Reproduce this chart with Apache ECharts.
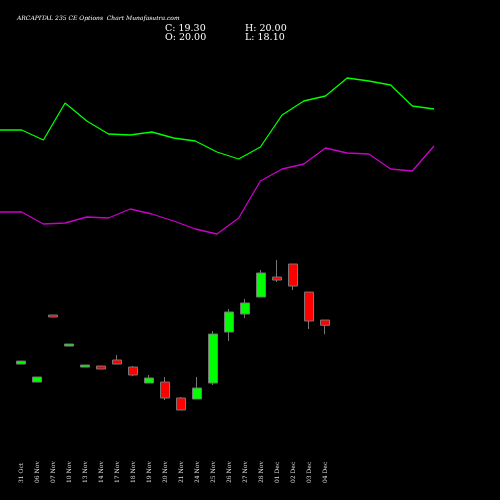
<!DOCTYPE html>
<html><head><meta charset="utf-8">
<script src="https://cdn.jsdelivr.net/npm/echarts@6/dist/echarts.min.js"></script>
<style>html,body{margin:0;background:#000}#c{width:500px;height:500px}</style>
</head><body><div id="c"></div>
<script>
var categories=["31 Oct","06 Nov","07 Nov","10 Nov","13 Nov","14 Nov","17 Nov","18 Nov","19 Nov","20 Nov","21 Nov","24 Nov","25 Nov","26 Nov","27 Nov","28 Nov","01 Dec","02 Dec","03 Dec","04 Dec"];
// [open, close, low, high]
var ohlc=[[14.13,14.53,14.13,14.53],[11.73,12.4,11.73,12.4],[20.67,20.4,20.4,20.67],[16.53,16.8,16.53,16.8],[13.73,14.0,13.73,14.0],[13.87,13.47,13.47,13.87],[14.67,14.13,14.13,15.33],[13.73,12.67,12.53,13.87],[11.6,12.27,11.6,12.67],[11.73,9.6,9.33,12.4],[9.6,8.0,8.0,9.73],[9.47,10.93,9.47,12.4],[11.6,18.13,11.33,18.53],[18.4,21.07,17.2,21.47],[20.8,22.27,20.27,22.8],[23.07,26.27,23.07,26.67],[25.73,25.33,25.07,28.0],[27.47,24.53,24.0,27.47],[23.73,19.87,18.8,23.73],[20.0,19.3,18.1,20.0]];
var lineIdx=[0,1,2,3,4,5,6,7,8,9,10,11,12,13,14,15,16,17,18,19,20];
var upper=[37.0,37.0,36.0,39.7,37.9,36.6,36.5,36.8,36.2,35.9,34.8,34.1,35.3,38.5,39.9,40.4,42.2,41.9,41.5,39.4,39.1];
var lower=[28.8,28.8,27.6,27.7,28.3,28.2,29.1,28.6,27.9,27.1,26.6,28.2,31.9,33.1,33.6,35.2,34.7,34.6,33.1,32.9,35.4];
var chart=echarts.init(document.getElementById('c'));
chart.setOption({
 backgroundColor:'#000',animation:false,
 title:[{text:'ARCAPITAL 235 CE Options  Chart Munafasutra.com',left:12,top:10,textStyle:{color:'#fff',fontSize:6,fontFamily:'DejaVu Serif',fontStyle:'italic',fontWeight:'normal'}},
  {text:'C: 19.30',left:160,top:19,textStyle:{color:'#fff',fontSize:9.5,fontFamily:'DejaVu Serif',fontWeight:'normal'}},
  {text:'H: 20.00',left:240,top:19,textStyle:{color:'#fff',fontSize:9.5,fontFamily:'DejaVu Serif',fontWeight:'normal'}},
  {text:'O: 20.00',left:160,top:28,textStyle:{color:'#fff',fontSize:9.5,fontFamily:'DejaVu Serif',fontWeight:'normal'}},
  {text:'L: 18.10',left:240,top:28,textStyle:{color:'#fff',fontSize:9.5,fontFamily:'DejaVu Serif',fontWeight:'normal'}}],
 grid:[{left:13,width:320,top:0,height:483},{left:0,width:434,top:0,height:500}],
 xAxis:[{type:'category',data:categories,gridIndex:0,boundaryGap:true,axisLine:{show:false},axisTick:{show:false},
   axisLabel:{inside:true,rotate:90,margin:0,color:'#ddd',fontSize:6,fontFamily:'DejaVu Serif',interval:0}},
  {type:'category',data:lineIdx,gridIndex:1,boundaryGap:false,show:false}],
 yAxis:[{type:'value',gridIndex:0,min:-1.73,max:62.67,show:false,splitLine:{show:false}},
  {type:'value',gridIndex:1,min:0,max:50,show:false,splitLine:{show:false}}],
 series:[
  {type:'line',xAxisIndex:1,yAxisIndex:1,data:upper,symbol:'none',lineStyle:{color:'#00ff00',width:1.3}},
  {type:'line',xAxisIndex:1,yAxisIndex:1,data:lower,symbol:'none',lineStyle:{color:'#cc00cc',width:1.3}},
  {type:'candlestick',xAxisIndex:0,yAxisIndex:0,data:ohlc,barWidth:9,
   itemStyle:{color:'#00ff00',color0:'#ff0000',borderColor:'#777',borderColor0:'#777',borderWidth:1}}
 ]
});
</script></body></html>
